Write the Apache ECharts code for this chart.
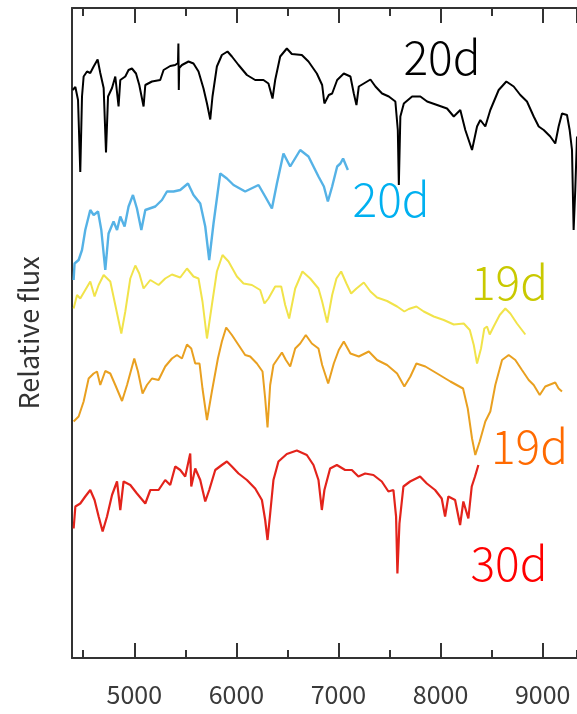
<!DOCTYPE html>
<html>
<head>
<meta charset="utf-8">
<script src="https://cdn.jsdelivr.net/npm/echarts@6/dist/echarts.min.js"></script>
<style>
html,body{margin:0;padding:0;background:#fff;}
#chart{width:577px;height:714px;}
</style>
</head>
<body>
<div id="chart"></div>
<script>
// Wavelength (Å) and relative flux (offset)
const black20d = [[4396,11.36],[4423,11.42],[4449,11.16],[4471,9.72],[4488,11.23],[4504,11.63],[4537,11.73],[4569,11.70],[4602,11.83],[4641,11.97],[4667,11.70],[4700,11.40],[4723,10.11],[4743,11.23],[4782,11.40],[4814,11.63],[4846,11.03],[4863,11.56],[4912,11.63],[4944,11.76],[4977,11.79],[5017,11.69],[5049,11.46],[5091,11.03],[5108,11.46],[5173,11.53],[5254,11.56],[5287,11.76],[5352,11.84],[5401,11.86],[5428,11.90],[5432,12.29],[5436,11.36],[5440,11.80],[5467,11.86],[5531,11.93],[5580,11.89],[5629,11.73],[5678,11.39],[5712,11.09],[5744,10.77],[5766,11.23],[5809,11.83],[5858,12.06],[5913,12.13],[5956,12.03],[6021,11.86],[6103,11.66],[6184,11.56],[6265,11.56],[6314,11.49],[6354,11.19],[6380,11.56],[6429,12.03],[6494,12.19],[6543,12.08],[6641,12.06],[6706,11.93],[6788,11.69],[6840,11.46],[6862,11.09],[6905,11.26],[6938,11.29],[6987,11.56],[7052,11.69],[7117,11.63],[7150,11.29],[7176,11.06],[7199,11.43],[7248,11.49],[7313,11.57],[7362,11.43],[7427,11.29],[7493,11.23],[7557,11.13],[7581,10.56],[7591,9.46],[7606,10.83],[7640,11.09],[7721,11.23],[7802,11.23],[7868,11.13],[7966,11.06],[8063,10.99],[8129,10.83],[8193,10.96],[8242,10.56],[8308,10.16],[8357,10.63],[8389,10.76],[8438,10.63],[8487,10.96],[8569,11.36],[8644,11.53],[8716,11.43],[8781,11.26],[8846,11.13],[8912,10.83],[8961,10.63],[9010,10.56],[9074,10.43],[9123,10.29],[9156,10.63],[9189,10.89],[9238,10.86],[9264,10.56],[9287,10.16],[9303,8.56],[9319,9.36],[9336,10.43]];
const blue20d = [[4406,7.56],[4415,7.89],[4455,7.96],[4488,8.16],[4520,8.56],[4569,8.96],[4602,8.86],[4645,8.93],[4677,8.56],[4716,7.76],[4748,8.49],[4797,8.73],[4831,8.56],[4863,8.83],[4905,8.63],[4944,9.03],[4987,9.26],[5026,8.99],[5069,8.56],[5108,8.96],[5206,9.03],[5271,9.16],[5320,9.33],[5385,9.33],[5450,9.36],[5526,9.49],[5580,9.26],[5646,9.09],[5695,8.63],[5734,7.96],[5776,8.69],[5842,9.69],[5907,9.59],[5972,9.46],[6086,9.33],[6217,9.46],[6282,9.23],[6348,8.99],[6397,9.49],[6461,10.09],[6527,9.83],[6625,10.16],[6706,10.03],[6804,9.63],[6857,9.43],[6896,9.13],[6938,9.43],[6987,9.83],[7019,9.89],[7045,9.99],[7092,9.76]];
const yellow19d = [[4406,6.99],[4439,7.26],[4471,7.19],[4520,7.36],[4569,7.53],[4611,7.23],[4651,7.46],[4700,7.66],[4765,7.53],[4814,7.06],[4873,6.49],[4912,6.93],[4961,7.59],[5010,7.85],[5049,7.69],[5091,7.39],[5157,7.56],[5238,7.46],[5303,7.59],[5369,7.67],[5450,7.61],[5516,7.79],[5580,7.63],[5629,7.59],[5668,7.13],[5712,6.39],[5760,7.06],[5809,7.73],[5864,8.06],[5923,7.93],[6005,7.63],[6070,7.49],[6152,7.46],[6233,7.36],[6275,7.09],[6314,7.19],[6380,7.43],[6439,7.43],[6478,7.06],[6517,6.79],[6576,7.39],[6647,7.73],[6723,7.59],[6804,7.39],[6840,7.13],[6889,6.71],[6938,7.26],[6980,7.59],[7026,7.73],[7078,7.49],[7124,7.29],[7176,7.39],[7248,7.51],[7313,7.33],[7378,7.21],[7476,7.14],[7574,7.03],[7645,6.93],[7688,6.98],[7763,7.03],[7835,6.93],[7933,6.83],[8031,6.76],[8129,6.67],[8227,6.69],[8286,6.56],[8325,6.26],[8357,5.89],[8396,6.19],[8428,6.59],[8455,6.63],[8481,6.47],[8520,6.63],[8579,6.86],[8634,6.99],[8683,6.89],[8748,6.69],[8830,6.47]];
const orange19d = [[4406,4.73],[4455,4.83],[4504,5.13],[4553,5.59],[4602,5.69],[4635,5.73],[4667,5.46],[4716,5.74],[4765,5.69],[4814,5.46],[4880,5.14],[4929,5.46],[5000,5.99],[5036,5.73],[5081,5.29],[5124,5.46],[5173,5.59],[5238,5.56],[5303,5.83],[5369,5.99],[5418,6.06],[5467,5.99],[5516,6.27],[5558,6.19],[5597,5.89],[5639,5.89],[5668,5.39],[5712,4.76],[5760,5.33],[5819,5.99],[5858,6.33],[5900,6.61],[5956,6.46],[6021,6.26],[6086,6.06],[6135,6.03],[6201,5.89],[6256,5.73],[6282,5.19],[6305,4.61],[6331,5.46],[6363,5.86],[6446,6.11],[6485,5.96],[6527,5.83],[6576,6.19],[6625,6.29],[6680,6.46],[6739,6.29],[6804,6.19],[6840,5.86],[6899,5.49],[6954,5.89],[7003,6.16],[7052,6.33],[7117,6.09],[7199,6.03],[7297,6.13],[7378,5.96],[7476,5.86],[7574,5.69],[7645,5.43],[7704,5.63],[7763,5.89],[7851,5.83],[7966,5.69],[8096,5.53],[8220,5.39],[8266,4.99],[8308,4.39],[8340,4.06],[8383,4.33],[8438,4.73],[8487,4.93],[8536,5.46],[8602,5.96],[8667,6.06],[8732,5.96],[8797,5.76],[8863,5.56],[8912,5.46],[8971,5.26],[9025,5.43],[9074,5.47],[9123,5.51],[9156,5.39],[9189,5.33]];
const red30d = [[4406,2.59],[4423,3.03],[4471,3.09],[4520,3.23],[4569,3.36],[4611,3.16],[4651,2.83],[4690,2.53],[4733,2.83],[4782,3.26],[4831,3.53],[4863,2.96],[4895,3.53],[4961,3.46],[5026,3.29],[5108,3.09],[5157,3.36],[5238,3.36],[5303,3.56],[5352,3.46],[5401,3.83],[5450,3.76],[5499,3.63],[5548,4.09],[5558,3.43],[5597,3.79],[5646,3.56],[5695,3.13],[5734,3.36],[5793,3.76],[5858,3.86],[5907,3.93],[5956,3.83],[6021,3.69],[6103,3.56],[6184,3.39],[6250,3.16],[6282,2.76],[6305,2.36],[6331,2.89],[6363,3.56],[6412,3.93],[6494,4.08],[6592,4.15],[6690,4.06],[6755,3.86],[6804,3.56],[6837,2.96],[6862,3.36],[6918,3.79],[6984,3.86],[7065,3.76],[7131,3.76],[7195,3.63],[7261,3.69],[7342,3.66],[7424,3.53],[7489,3.33],[7538,3.36],[7564,2.83],[7577,1.69],[7597,2.69],[7636,3.43],[7701,3.53],[7799,3.63],[7865,3.49],[7946,3.36],[8011,3.19],[8044,2.83],[8076,3.23],[8142,3.16],[8191,2.66],[8223,3.13],[8272,2.79],[8305,3.43],[8337,3.63],[8370,3.86]];

const seriesNames = ['20d', '20d', '19d', '19d', '30d'];
// label anchor positions [wavelength, flux]
const labelAnchors = [[8014,12.0],[7515,9.16],[8675,7.5],[8871,4.22],[8670,1.88]];
const xTickValues = [5000, 6000, 7000, 8000, 9000];

const seriesData = [black20d, blue20d, yellow19d, orange19d, red30d];
const lineColors = ['#000000', '#55b2e6', '#f1e34a', '#e9a020', '#e3231b'];
const lineWidths = [2, 2.4, 2, 2, 2.2];
const textColors = ['#000000', '#00b0f0', '#c9c900', '#ff6a00', '#ff0000'];

const chart = echarts.init(document.getElementById('chart'), null, {renderer: 'canvas'});
const FONT = '"Noto Sans CJK JP", "Noto Sans", sans-serif';
const XMIN = 4390, XMAX = 9336;

function xAxisDef(pos, major, labels) {
  return {
    type: 'value', position: pos, min: XMIN, max: XMAX,
    splitNumber: major ? 5 : 10,
    minInterval: major ? 1000 : 500, maxInterval: major ? 1000 : 500,
    axisLine: {show: major, lineStyle: {color: '#333', width: 2}},
    axisTick: {show: true, inside: true, length: major ? 15 : 8, lineStyle: {color: '#333', width: 2}},
    axisLabel: {
      show: labels, margin: 24, color: '#3a3a3a', fontSize: 25, fontFamily: FONT,
      showMinLabel: false, showMaxLabel: false,
      formatter: v => (xTickValues.indexOf(v) >= 0 ? String(v) : '')
    },
    splitLine: {show: false}
  };
}

const option = {
  animation: false,
  backgroundColor: '#fff',
  grid: {left: 72, right: 0, top: 8, bottom: 56, show: false},
  xAxis: [
    xAxisDef('bottom', true, true),
    xAxisDef('bottom', false, false),
    xAxisDef('top', true, false),
    xAxisDef('top', false, false)
  ],
  yAxis: {
    type: 'value', min: 0, max: 13,
    name: 'Relative flux', nameLocation: 'middle', nameGap: 30, nameRotate: 90,
    nameTextStyle: {fontSize: 27, color: '#333', fontFamily: FONT},
    axisLine: {show: true, lineStyle: {color: '#333', width: 2}},
    axisTick: {show: false}, axisLabel: {show: false}, splitLine: {show: false}
  },
  series: seriesData.map((d, i) => ({
    type: 'line', name: seriesNames[i] + '_' + i, data: d, xAxisIndex: 0,
    showSymbol: false, symbol: 'none', smooth: false,
    lineStyle: {color: lineColors[i], width: lineWidths[i]},
    markPoint: {
      symbol: 'rect', symbolSize: 1, itemStyle: {color: 'rgba(0,0,0,0)'},
      label: {show: true, position: 'inside', formatter: seriesNames[i],
        color: textColors[i], fontSize: 46, fontWeight: 300, fontFamily: FONT},
      data: [{coord: labelAnchors[i]}]
    }
  }))
};
chart.setOption(option);
</script>
</body>
</html>
